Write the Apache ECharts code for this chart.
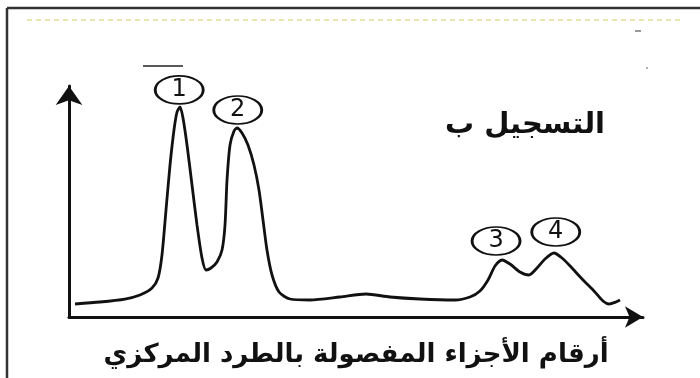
<!DOCTYPE html>
<html><head><meta charset="utf-8">
<script src="https://cdn.jsdelivr.net/npm/echarts@6/dist/echarts.min.js"></script>
<style>html,body{margin:0;padding:0;background:#fff}#c{width:700px;height:378px}</style>
</head><body><div id="c"></div>
<script>
// Curve samples (x: fraction position, y: recorded signal)
const curveX = [1.05, 5.40, 9.76, 12.37, 14.46, 15.51, 16.20, 16.90, 17.60, 18.29, 18.82, 19.34, 19.86, 20.56, 21.43, 22.30, 23.17, 23.87, 24.74, 25.78, 26.66, 27.18, 27.53, 28.05, 28.75, 29.27, 30.14, 31.18, 32.23, 33.10, 33.80, 34.49, 35.37, 36.59, 38.50, 41.99, 47.21, 51.74, 55.92, 61.15, 67.25, 69.86, 71.60, 73.00, 74.22, 75.44, 76.83, 78.57, 80.14, 81.53, 82.93, 84.49, 85.89, 87.63, 89.55, 91.46, 93.03, 94.08, 95.30, 95.99];
const curveY = [5.63, 6.49, 7.79, 9.52, 12.55, 16.88, 26.84, 46.32, 65.80, 80.95, 88.74, 90.91, 86.15, 74.46, 57.14, 39.83, 25.54, 20.35, 21.21, 23.81, 29.00, 39.83, 59.31, 74.46, 80.52, 81.82, 79.65, 74.46, 65.80, 54.98, 41.99, 29.00, 18.18, 10.82, 7.79, 7.36, 8.66, 9.96, 8.66, 7.79, 7.36, 8.66, 11.26, 16.02, 22.08, 24.68, 22.94, 19.48, 18.18, 21.21, 25.11, 27.71, 25.54, 21.21, 16.02, 11.26, 6.93, 5.63, 6.49, 7.36];
// Circled peak labels
const peakLabels = ['1', '2', '3', '4'];
const peakLabelX = [19.2, 29.4, 74.4, 84.8];
const peakLabelY = [98.3, 89.6, 32.9, 36.8];
const xAxisName = 'أرقام الأجزاء المفصولة بالطرد المركزي';
const recordTitle = 'التسجيل ب';

const chart = echarts.init(document.getElementById('c'), null, {renderer: 'canvas'});
const lineData = curveX.map((x, i) => [x, curveY[i]]);
const labelData = peakLabels.map((t, i) => ({value: [peakLabelX[i], peakLabelY[i]], name: t}));

chart.setOption({
  backgroundColor: '#fff',
  animation: false,
  title: {
    text: recordTitle, right: 90, top: 106,
    textStyle: {fontFamily: 'DejaVu Sans', fontWeight: 'bold', fontSize: 29, color: '#111'}
  },
  grid: {left: 69, right: 57, top: 86, bottom: 61},
  xAxis: {
    type: 'value', min: 0, max: 100,
    axisLine: {show: true, lineStyle: {color: '#111', width: 3}, symbol: ['none', 'arrow'], symbolSize: [16, 18]},
    axisTick: {show: false}, axisLabel: {show: false}, splitLine: {show: false},
    name: xAxisName, nameLocation: 'middle', nameGap: 25,
    nameTextStyle: {fontFamily: 'DejaVu Sans', fontWeight: 'bold', fontSize: 26, color: '#111', verticalAlign: 'top'}
  },
  yAxis: {
    type: 'value', min: 0, max: 100,
    axisLine: {show: true, lineStyle: {color: '#111', width: 3}, symbol: ['none', 'arrow'], symbolSize: [20, 19]},
    axisTick: {show: false}, axisLabel: {show: false}, splitLine: {show: false}
  },
  series: [
    {
      type: 'line', data: lineData, smooth: 0.25, showSymbol: false,
      lineStyle: {color: '#111', width: 2.8}, clip: false
    },
    {
      type: 'scatter', data: labelData, clip: false,
      symbol: 'circle', symbolSize: [48, 28],
      itemStyle: {color: 'rgba(255,255,255,0)', borderColor: '#111', borderWidth: 2.2, opacity: 1},
      label: {show: true, position: 'inside', formatter: '{b}', fontFamily: 'DejaVu Sans', fontSize: 24, color: '#111'}
    }
  ],
  graphic: [
    {type: 'line', shape: {x1: 7, y1: 8, x2: 700, y2: 8}, style: {stroke: '#333', lineWidth: 2.5}},
    {type: 'line', shape: {x1: 7, y1: 8, x2: 7, y2: 378}, style: {stroke: '#333', lineWidth: 2.5}},
    {type: 'line', shape: {x1: 27, y1: 20, x2: 682, y2: 20}, style: {stroke: '#dede9a', lineWidth: 1.5, lineDash: [5, 4]}},
    {type: 'line', shape: {x1: 143, y1: 66, x2: 183, y2: 66}, style: {stroke: '#222', lineWidth: 1.5}},
    {type: 'line', shape: {x1: 635, y1: 31, x2: 641, y2: 31}, style: {stroke: '#777', lineWidth: 1.5}},
    {type: 'circle', shape: {cx: 647, cy: 68, r: 1}, style: {fill: '#999'}}
  ]
});
</script></body></html>
